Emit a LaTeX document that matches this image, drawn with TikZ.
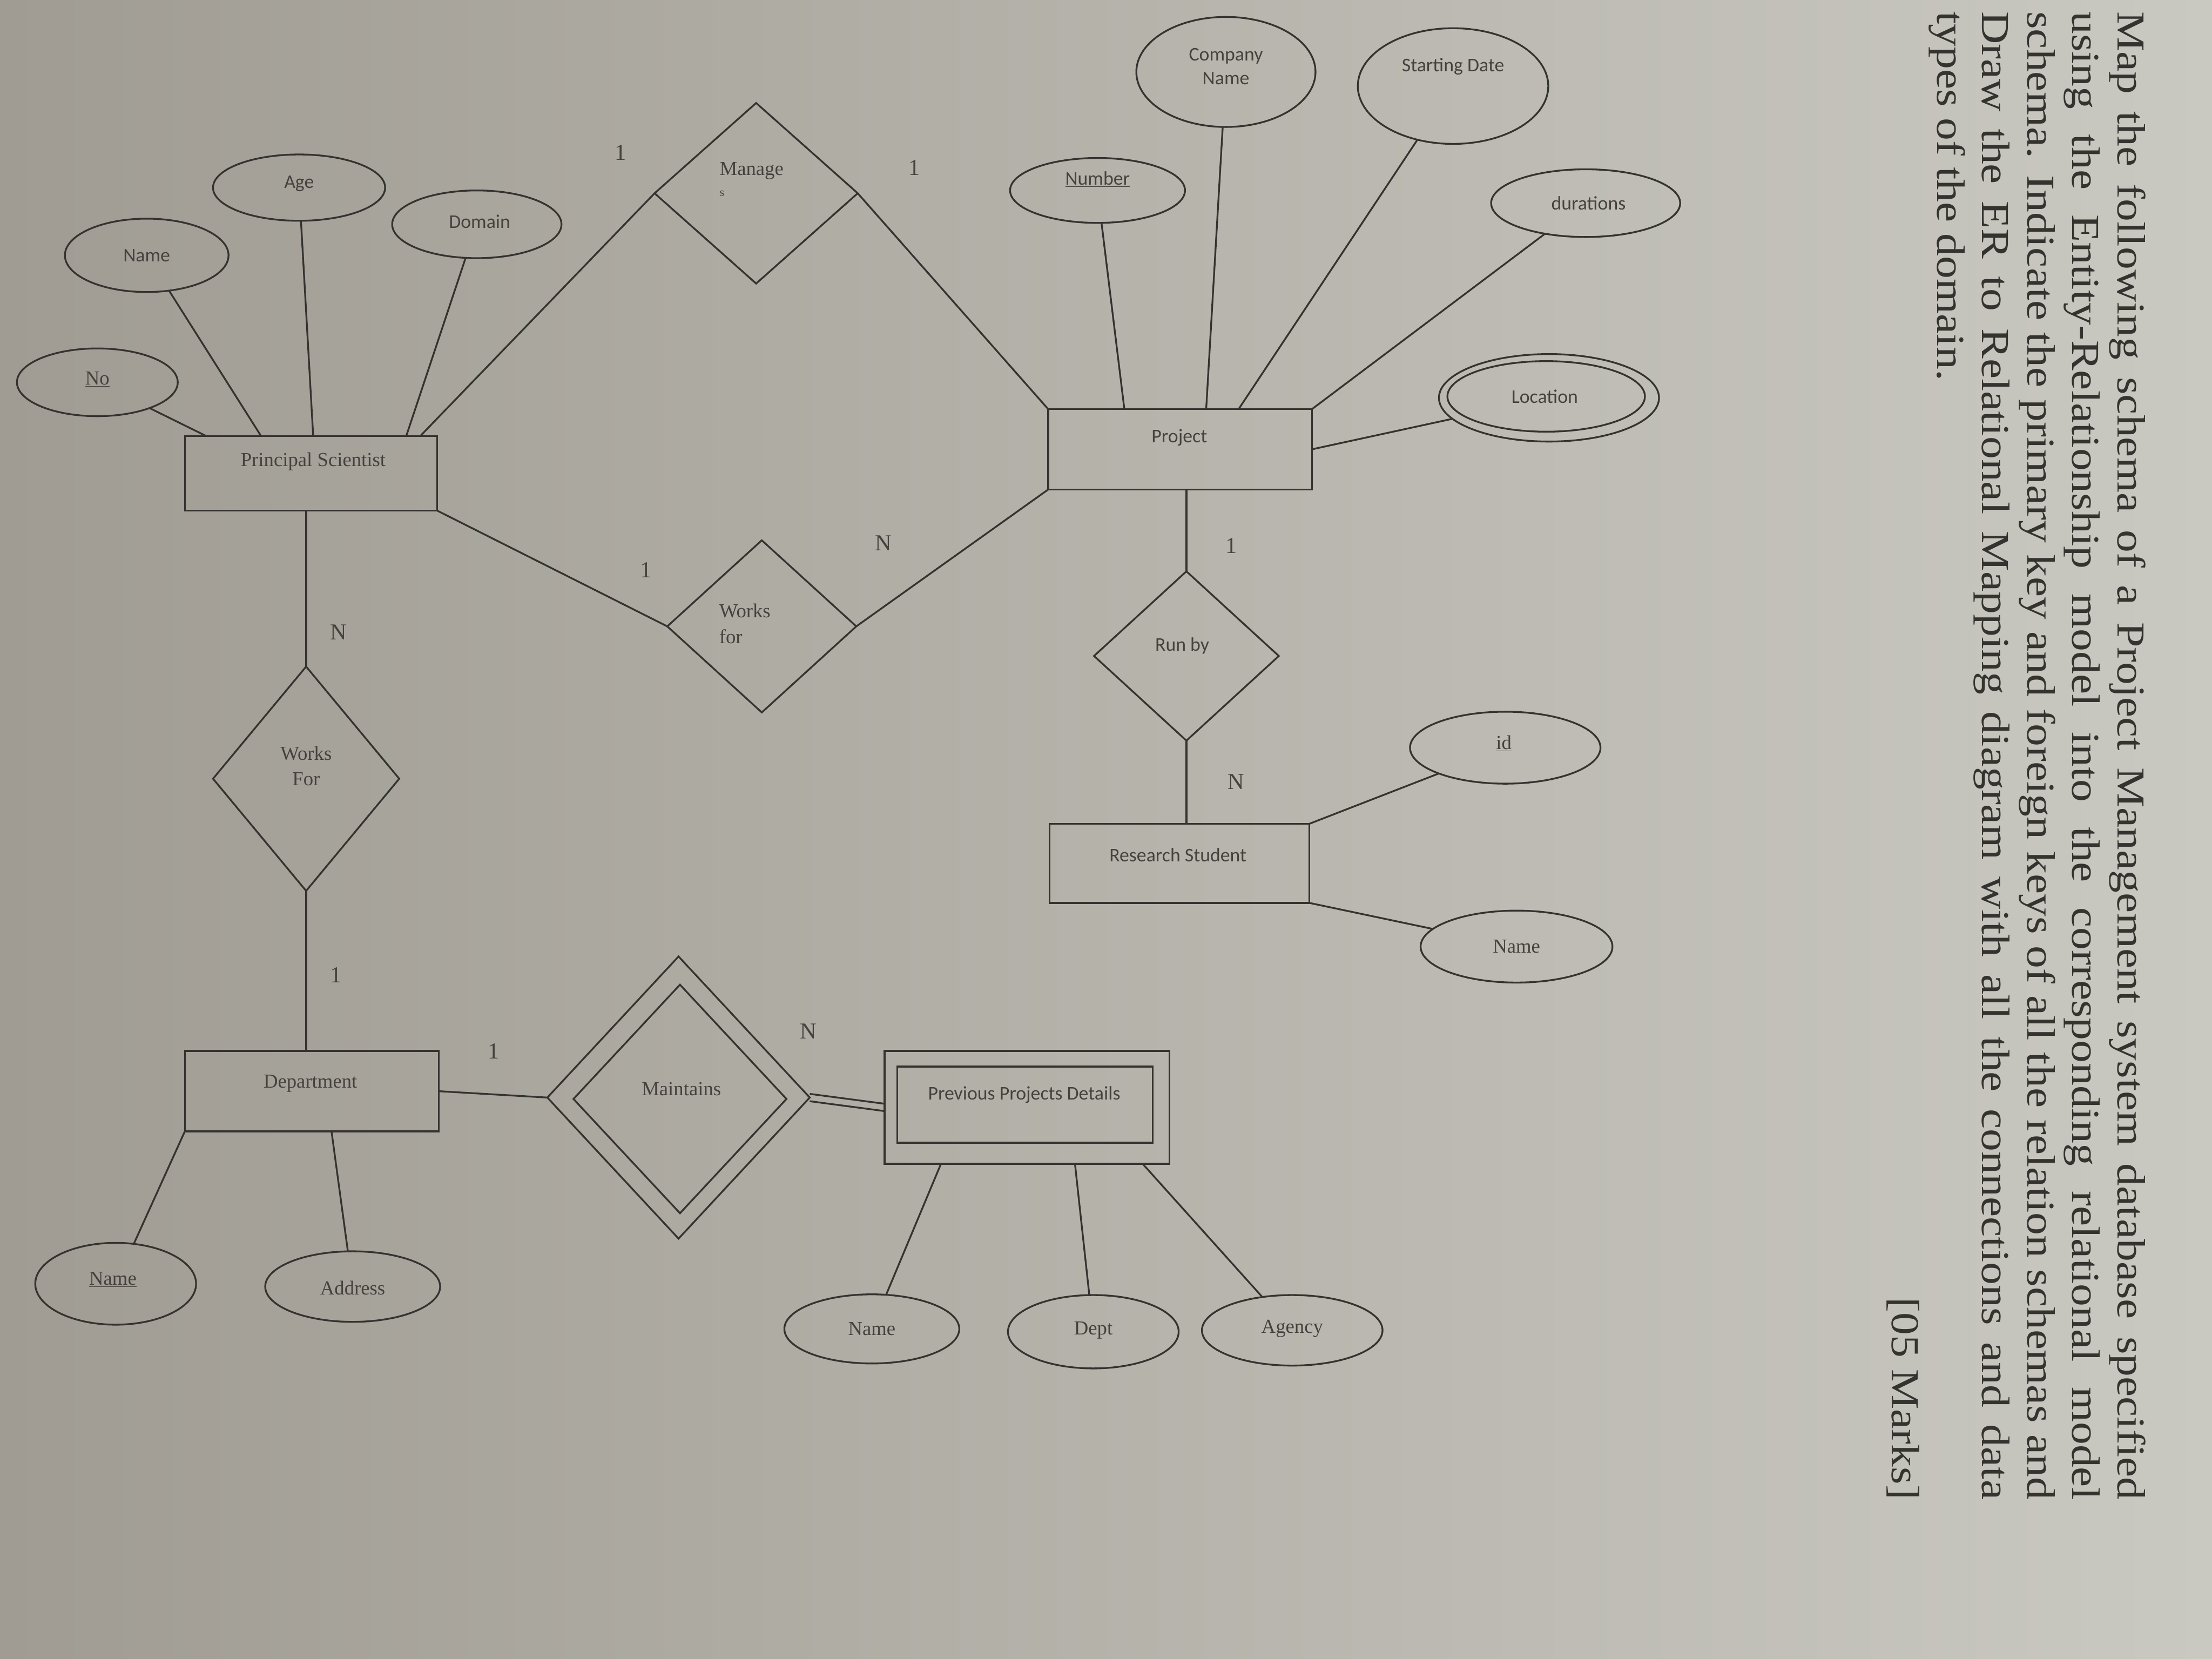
\documentclass[tikz,border=0pt]{standalone}
\usepackage{fontspec}
\setmainfont{Liberation Serif}
\newfontfamily\sansc{Carlito}
\newfontfamily\qfont[FakeStretch=1.14]{Liberation Serif}
\usetikzlibrary{shapes.geometric,calc}
\definecolor{ink}{HTML}{35332F}
\definecolor{txt}{HTML}{45423E}
\definecolor{bgL}{HTML}{A09C94}
\definecolor{bgR}{HTML}{CAC9C1}
\begin{document}
\begin{tikzpicture}[x=0.05cm,y=-0.05cm,
  sz/.style 2 args={minimum width=#1*0.05cm,minimum height=#2*0.05cm},
  conn/.style={draw=ink,line width=1.8pt},
  ent/.style={draw=ink,line width=1.8pt,rectangle,inner sep=0,outer sep=0},
  attr/.style={draw=ink,line width=1.8pt,ellipse,inner sep=0,outer sep=0},
  rel/.style={draw=ink,line width=1.8pt,diamond,inner sep=0,outer sep=0},
  lbl/.style={text=txt,font=\fontsize{20}{23}\selectfont,inner sep=0},
  slbl/.style={text=txt,font=\sansc\fontsize{19.5}{22}\selectfont,inner sep=0},
  card/.style={text=txt,font=\fontsize{23}{25}\selectfont,inner sep=0},
  qtext/.style={text=ink,font=\qfont\fontsize{40}{45.5}\selectfont,inner sep=0,
    text width=52.75cm,align=justify}]
\shade[left color=bgL,right color=bgR] (0,0) rectangle (1568,1176);
\useasboundingbox (0,0) rectangle (1568,1176);

% ---------- question text ----------
\node[qtext,rotate=-90,anchor=north west] (q) at (1521,8) {Map the following schema of a Project Management system database specified\linebreak
using the Entity-Relationship model into the corresponding relational model\linebreak
schema. Indicate the primary key and foreign keys of all the relation schemas and\linebreak
Draw the ER to Relational Mapping diagram with all the connections and data\linebreak
types of the domain.\\ \mbox{}\hfill [05 Marks]};

% ---------- entities ----------
\node[ent,sz={179}{53}] (ps) at (220.5,335.5) {};
\node[ent,sz={187}{57}] (proj) at (836.5,318.5) {};
\node[ent,sz={184}{56}] (rs) at (836,612) {};
\node[ent,sz={180}{57}] (dept) at (221,773.5) {};
\node[ent,sz={202}{80}] (ppdo) at (728,785) {};
\node[ent,sz={181}{54}] (ppdi) at (726.5,783) {};

% ---------- relationships ----------
\node[rel,sz={144}{128}] (man) at (536,137) {};
\node[rel,sz={134}{122}] (wfm) at (540,444) {};
\node[rel,sz={131}{120}] (rb) at (841,465) {};
\node[rel,sz={132}{159}] (wfl) at (217,552) {};
\node[rel,sz={186}{200}] (mo) at (481,778) {};
\node[rel,sz={151}{162}] (mi) at (482,779) {};

% ---------- attributes ----------
\node[attr,sz={114}{48}] (no) at (69,271) {};
\node[attr,sz={116}{52}] (psname) at (104,181) {};
\node[attr,sz={122}{47}] (age) at (212,133) {};
\node[attr,sz={120}{48}] (dom) at (338,159) {};
\node[attr,sz={124}{46}] (num) at (778,135) {};
\node[attr,sz={127}{78}] (comp) at (869,51) {};
\node[attr,sz={135}{82}] (sdate) at (1030,61) {};
\node[attr,sz={134}{48}] (dur) at (1124,144) {};
\node[attr,sz={156}{62}] (loco) at (1098,282) {};
\node[attr,sz={140}{50}] (loci) at (1096,281) {};
\node[attr,sz={135}{51}] (rsid) at (1067,530) {};
\node[attr,sz={136}{51}] (rsname) at (1075,671) {};
\node[attr,sz={114}{58}] (dname) at (82,910) {};
\node[attr,sz={124}{50}] (addr) at (250,912) {};
\node[attr,sz={124}{49}] (pname) at (618,942) {};
\node[attr,sz={121}{52}] (pdept) at (775,944) {};
\node[attr,sz={128}{50}] (agency) at (916,943) {};

% ---------- labels ----------
\node[lbl] (tps) at (222,327) {Principal Scientist};
\node[slbl] (tproj) at (836,310) {Project};
\node[slbl] (trs) at (835,606) {Research Student};
\node[lbl] (tdept) at (220,768) {Department};
\node[slbl] (tppd) at (726,776) {Previous Projects Details};
\node[lbl,align=left,anchor=north west] (tman) at (510,115) {Manage\\[-2pt]{\fontsize{12}{12}\selectfont s}};
\node[lbl,align=left] (twfm) at (528,442) {Works\\[3pt]for};
\node[slbl] (trb) at (838,458) {Run by};
\node[lbl,align=center] (twfl) at (217,543) {Works\\[3pt]For};
\node[lbl] (tmai) at (483,772) {Maintains};
\node[lbl] (tno) at (69,269) {\underline{No}};
\node[slbl] (tpsname) at (104,181) {Name};
\node[slbl] (tage) at (212,130) {Age};
\node[slbl] (tdom) at (340,157) {Domain};
\node[slbl] (tnum) at (778,127) {\underline{Number}};
\node[slbl,align=center] (tcomp) at (869,47) {Company\\[2pt]Name};
\node[slbl] (tsdate) at (1030,47) {Starting Date};
\node[slbl] (tdur) at (1126,144) {durations};
\node[slbl] (tloc) at (1095,281) {Location};
\node[lbl] (tid) at (1066,527) {\underline{id}};
\node[lbl] (trsname) at (1075,671) {Name};
\node[lbl] (tdname) at (80,907) {\underline{Name}};
\node[lbl] (taddr) at (250,913) {Address};
\node[lbl] (tpname) at (618,942) {Name};
\node[lbl] (tpdept) at (775,943) {Dept};
\node[lbl] (tagency) at (916,942) {Agency};

% ---------- cardinalities ----------
\node[card] (c1) at (440,108) {1};
\node[card] (c2) at (648,119) {1};
\node[card] (c3) at (458,404) {1};
\node[card] (c4) at (626,385) {N};
\node[card] (c5) at (873,387) {1};
\node[card] (c6) at (876,554) {N};
\node[card] (c7) at (240,448) {N};
\node[card] (c8) at (238,691) {1};
\node[card] (c9) at (350,745) {1};
\node[card] (c10) at (573,731) {N};

% ---------- connectors ----------
\draw[conn] (no) -- (ps.north -| 146,0);
\draw[conn] (psname) -- (ps.north -| 185,0);
\draw[conn] (age) -- (ps.north -| 222,0);
\draw[conn] (dom) -- (ps.north -| 288,0);
\draw[conn] (ps.north -| 298,0) -- (man.west);
\draw[conn] (man.east) -- (proj.north west);
\draw[conn] (ps.south east) -- (wfm.west);
\draw[conn] (wfm.east) -- (proj.south west);
\draw[conn] (num) -- (proj.north -| 797,0);
\draw[conn] (comp) -- (proj.north -| 855,0);
\draw[conn] (sdate) -- (proj.north -| 878,0);
\draw[conn] (dur) -- (proj.north east);
\draw[conn] (loco) -- (proj.east);
\draw[conn] (proj.south -| rb.north) -- (rb.north);
\draw[conn] (rb.south) -- (rs.north -| rb.south);
\draw[conn] (rsid) -- (rs.north east);
\draw[conn] (rsname) -- (rs.south east);
\draw[conn] (ps.south -| wfl.north) -- (wfl.north);
\draw[conn] (wfl.south) -- (dept.north -| wfl.south);
\draw[conn] (dept.east) -- (mo.west);
\draw[conn] (dname) -- (dept.south west);
\draw[conn] (addr) -- (dept.south -| 235,0);
\draw[conn] ([yshift=0.13cm]mo.east) -- ([yshift=0.13cm]ppdo.west);
\draw[conn] ([yshift=-0.13cm]mo.east) -- ([yshift=-0.13cm]ppdo.west);
\draw[conn] (pname) -- (ppdo.south -| 667,0);
\draw[conn] (pdept) -- (ppdo.south -| 762,0);
\draw[conn] (agency) -- (ppdo.south -| 810,0);
\end{tikzpicture}
\end{document}
